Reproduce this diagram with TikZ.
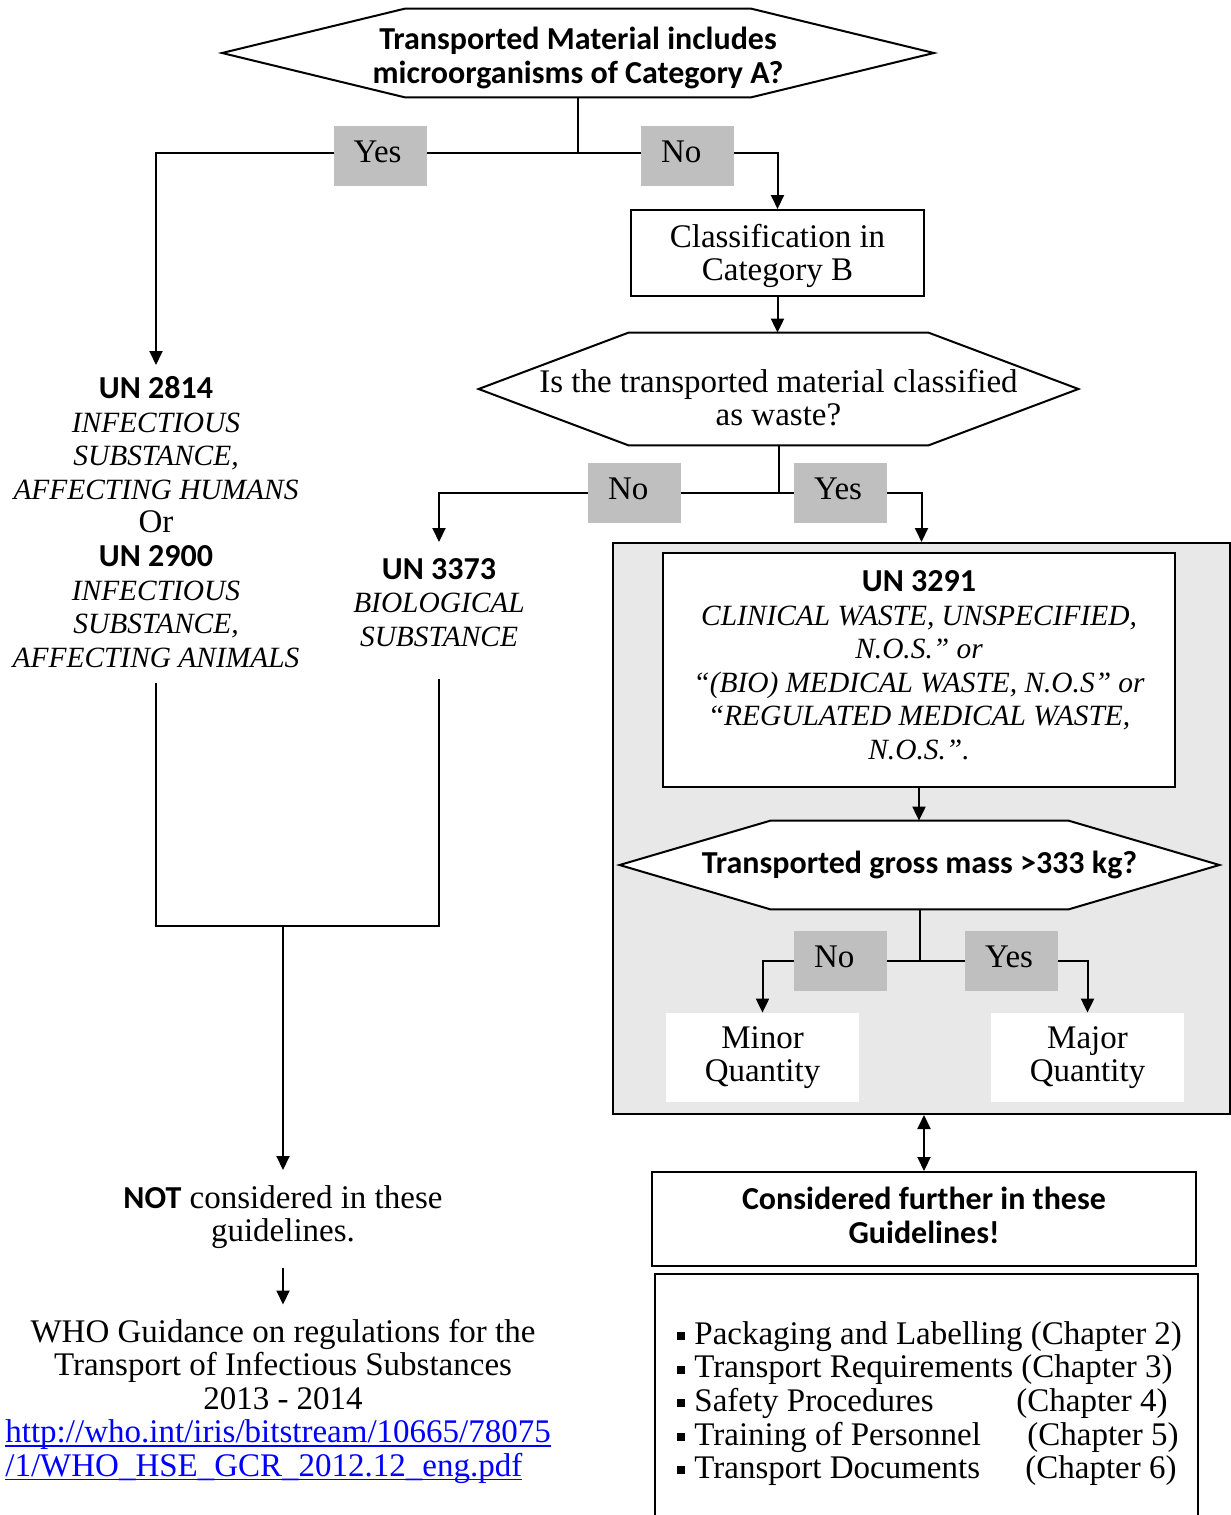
\documentclass[tikz,border=0pt]{standalone}
\usepackage{fontspec}
\setmainfont{Liberation Serif}
\newfontfamily\hdfont{Carlito}
\usepackage{xcolor}
\usetikzlibrary{arrows.meta}
\definecolor{taggray}{RGB}{191,191,191}
\definecolor{panelgray}{RGB}{232,232,232}
\definecolor{linkblue}{RGB}{0,0,255}
\pgfdeclarelayer{background}
\pgfsetlayers{background,main}
\newcommand\hdl[1]{{\fontsize{16}{16.8}\selectfont\hdfont\bfseries #1}}
\newcommand\itx[1]{{\fontsize{14.7}{16.8}\selectfont\itshape #1}}
\newcommand\sqbul{\rule[2.2pt]{4pt}{4pt}\hspace{4.5pt}}
\newcommand\ulink[1]{{\color{linkblue}\setbox0\hbox{#1}\rlap{\rule[-2pt]{\wd0}{0.7pt}}\box0}}
\newcommand\hexaround[2]{\draw[conn,fill=white] (#1.west) -- ([xshift=#2]#1.north west) -- ([xshift=-#2]#1.north east) -- (#1.east) -- ([xshift=-#2]#1.south east) -- ([xshift=#2]#1.south west) -- cycle;}

\begin{document}
\begin{tikzpicture}[x=0.5pt,y=-0.5pt,
    font=\fontsize{16.5}{16.8}\selectfont,
    ent/.style={rectangle,draw,fill=white,line width=1pt,align=center,inner sep=2pt},
    dec/.style={align=center,inner sep=0pt},
    plain/.style={align=center,inner sep=2pt},
    tag/.style={fill=taggray,minimum width=46.5pt,minimum height=30pt,inner xsep=10pt,inner ysep=0pt,text width=26.5pt,align=left,text depth=4pt},
    qty/.style={fill=white,align=center,minimum width=96.5pt,minimum height=44.5pt,inner sep=0pt},
    hd/.style={font=\fontsize{16}{16.8}\selectfont\hdfont\bfseries},
    conn/.style={line width=1pt},
    arrow/.style={conn,-{Triangle[width=6.5pt,length=7pt]}},
    twoway/.style={conn,{Triangle[width=6.5pt,length=7pt]}-{Triangle[width=6.5pt,length=7pt]}}]
    \useasboundingbox (0,0) rectangle (1231,1515);
    \clip (0,0) rectangle (1231,1515);
    % questions and boxes
    \node[dec,hd,minimum width=355.5pt,minimum height=44pt,text height=30pt,text depth=0pt] (qcatA) at (578,53) {Transported Material includes\\microorganisms of Category A?};
    \node[tag] (yesA) at (380,156) {Yes};
    \node[tag] (noA) at (687.5,156) {No};
    \node[ent,minimum width=146.5pt,minimum height=43pt,text depth=0.6pt] (catB) at (777.5,253) {Classification in\\Category B};
    \node[dec,minimum width=299.5pt,minimum height=56pt,text height=37pt] (qwaste) at (778.5,389) {Is the transported material classified\\as waste?};
    \node[tag] (noW) at (634.5,493) {No};
    \node[tag] (yesW) at (840.5,493) {Yes};
    \node[plain,anchor=north] (un2814) at (156,372) {\hdl{UN 2814}\\\itx{INFECTIOUS}\\\itx{SUBSTANCE,}\\\itx{AFFECTING HUMANS}\\Or\\\hdl{UN 2900}\\\itx{INFECTIOUS}\\\itx{SUBSTANCE,}\\\itx{AFFECTING ANIMALS}};
    \node[plain,anchor=north] (un3373) at (439,554) {\hdl{UN 3373}\\\itx{BIOLOGICAL}\\\itx{SUBSTANCE}};
    \node[ent,minimum width=256pt,minimum height=117pt,text depth=5pt] (un3291) at (919,670) {\hdl{UN 3291}\\\itx{CLINICAL WASTE, UNSPECIFIED,}\\\itx{N.O.S.” or}\\\itx{“(BIO) MEDICAL WASTE, N.O.S” or}\\\itx{“REGULATED MEDICAL WASTE,}\\\itx{N.O.S.”.}};
    \node[dec,hd,minimum width=299.5pt,minimum height=44pt] (qmass) at (919.5,865) {Transported gross mass >333 kg?};
    \node[tag] (noM) at (840.5,960.5) {No};
    \node[tag] (yesM) at (1011.5,960.5) {Yes};
    \node[qty] (minor) at (762.5,1057.5) {Minor\\Quantity};
    \node[qty] (major) at (1087.5,1057.5) {Major\\Quantity};
    \node[ent,hd,minimum width=272pt,minimum height=47pt,text depth=3.5pt] (further) at (924,1219) {Considered further in these\\Guidelines!};
    \node[ent,anchor=north west,minimum width=271.5pt,minimum height=130pt] (chapbox) at (654,1273) {};
    \node[anchor=north west,align=left,inner sep=0pt] (chapters) at (677,1321) {\sqbul Packaging and Labelling (Chapter 2)\\\sqbul Transport Requirements (Chapter 3)\\\sqbul\makebox[161pt][l]{Safety Procedures}(Chapter 4)\\\sqbul\makebox[166.5pt][l]{Training of Personnel}(Chapter 5)\\\sqbul\makebox[165.5pt][l]{Transport Documents}(Chapter 6)};
    \node[plain,anchor=north] (notcons) at (283,1181) {\hdl{NOT} considered in these\\guidelines.};
    \node[plain,anchor=north] (who) at (283,1314.5) {WHO Guidance on regulations for the\\Transport of Infectious Substances\\2013 - 2014};
    \node[plain,anchor=north west,align=left] (link) at (1,1415.5) {\ulink{http://who.int/iris/bitstream/10665/78075}\\\ulink{/1/WHO\_HSE\_GCR\_2012.12\_eng.pdf}};
    \coordinate (jA) at (578,153);
    \coordinate (jW) at (778.5,493);
    \coordinate (jM) at (919.5,960.5);
    \coordinate (merge) at (283,926);
    \begin{pgfonlayer}{background}
        \node[rectangle,draw,fill=panelgray,line width=1pt,minimum width=308.5pt,minimum height=285.5pt] (wastebox) at (921.5,828.5) {};
        \hexaround{qcatA}{91.5pt}
        \hexaround{qwaste}{75pt}
        \hexaround{qmass}{75.5pt}
        % connectors
        \draw[conn] (qcatA.south) -- (jA);
        \draw[arrow,shorten >=3.5pt] (jA) -| (un2814.north);
        \draw[arrow] (jA) -| (catB.north);
        \draw[arrow] (catB.south) -- (catB.south |- qwaste.north);
        \draw[conn] (qwaste.south) -- (jW);
        \draw[arrow,shorten >=6pt] (jW) -| (un3373.north);
        \draw[arrow] (jW) -| (wastebox.north);
        \draw[arrow] (un3291.south) -- (un3291.south |- qmass.north);
        \draw[conn] (qmass.south) -- (jM);
        \draw[arrow] (jM) -| (minor.north);
        \draw[arrow] (jM) -| (major.north);
        \draw[conn,shorten <=5.5pt] (un2814.south) |- (merge);
        \draw[conn,shorten <=14pt] (un3373.south) |- (merge);
        \draw[arrow,shorten >=5.5pt] (merge) -- (notcons.north);
        \draw[arrow,shorten <=7.5pt,shorten >=5pt] (notcons.south) -- (who.north);
        \draw[twoway] (further.north |- wastebox.south) -- (further.north);
    \end{pgfonlayer}
\end{tikzpicture}
\end{document}
